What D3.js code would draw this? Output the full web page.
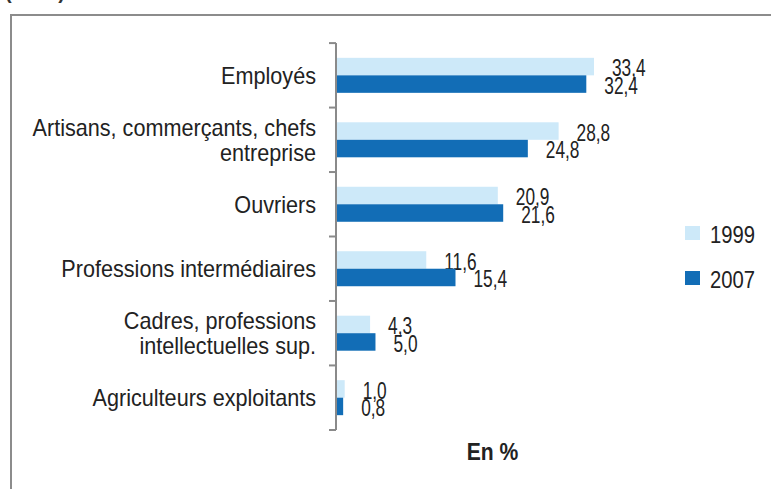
<!DOCTYPE html>
<html><head><meta charset="utf-8">
<script src="https://cdn.jsdelivr.net/npm/d3@7"></script>
<style>body{margin:0;background:#fff;}svg{display:block;}</style>
</head><body>
<svg id="c" width="771" height="489"></svg>
<script>
const categories = [
  ["Employés"],
  ["Artisans, commerçants, chefs", "entreprise"],
  ["Ouvriers"],
  ["Professions intermédiaires"],
  ["Cadres, professions", "intellectuelles sup."],
  ["Agriculteurs exploitants"]
];
const values1999 = [33.4, 28.8, 20.9, 11.6, 4.3, 1.0];
const values2007 = [32.4, 24.8, 21.6, 15.4, 5.0, 0.8];
const seriesNames = ["1999", "2007"];
const colors = ["#cde9f9", "#126db6"];
const fmt = v => v.toFixed(1).replace(".", ",");
const FONT = "Liberation Sans, Arial, sans-serif";

const svg = d3.select("#c");
const keys = categories.map((c, i) => i);
const y = d3.scaleBand().domain(keys).range([43, 430]).paddingInner(0.457).paddingOuter(0.23);
const yIn = d3.scaleBand().domain([0, 1]).range([0, y.bandwidth()]).padding(0);
const x = d3.scaleLinear().domain([0, 33.4]).range([337, 594]);

function stext(g, tx, ty, sx, size, str, opts = {}) {
  return g.append("text")
    .attr("transform", `translate(${tx},${ty}) scale(${sx},1)`)
    .attr("text-anchor", opts.anchor || "start")
    .attr("font-family", FONT)
    .attr("font-weight", opts.bold ? "bold" : "normal")
    .attr("font-size", size).attr("fill", "#222").text(str);
}

// frame
svg.append("rect").attr("x", 11).attr("y", 15).attr("width", 800).attr("height", 520)
  .attr("fill", "none").attr("stroke", "#8c8c8c").attr("stroke-width", 2);

// partial header text (cut by the top edge, as in the reference)
svg.append("text").attr("x", 5).attr("y", -1).attr("font-family", FONT)
  .attr("font-weight", "bold").attr("font-size", 20).attr("fill", "#333").text("(en %)");

// bars and value labels
const series = [values1999, values2007];
series.forEach((vals, s) => {
  svg.append("g").selectAll("rect").data(vals).join("rect")
    .attr("x", x(0))
    .attr("y", (d, i) => y(i) + yIn(s))
    .attr("width", d => x(d) - x(0))
    .attr("height", yIn.bandwidth())
    .attr("fill", colors[s]);
  const lg = svg.append("g");
  vals.forEach((d, i) => {
    stext(lg, x(d) + 18, y(i) + yIn(s) + yIn.bandwidth() + 1, 0.72, 24, fmt(d));
  });
});

// axis
const axisX = 336;
const ag = svg.append("g");
ag.append("line").attr("x1", axisX).attr("x2", axisX).attr("y1", 43).attr("y2", 430)
  .attr("stroke", "#8a8a8a").attr("stroke-width", 2);
const boundaries = keys.map(i => y(i) - y.step() * y.paddingInner() / 2).concat([430]);
ag.selectAll("line.t").data(boundaries).join("line").attr("class", "t")
  .attr("x1", axisX - 7).attr("x2", axisX).attr("y1", d => d).attr("y2", d => d)
  .attr("stroke", "#8a8a8a").attr("stroke-width", 2);

// category labels
const cg = svg.append("g");
categories.forEach((lines, i) => {
  const cy = y(i) + y.bandwidth() / 2;
  const n = lines.length, lh = 25;
  lines.forEach((l, k) => {
    stext(cg, 316, cy + (k - (n - 1) / 2) * lh + 8.5, 0.94, 23, l, { anchor: "end" });
  });
});

// x axis title
stext(svg, 492.5, 460, 0.88, 24, "En %", { anchor: "middle", bold: true });

// legend
seriesNames.forEach((n, s) => {
  const top = 226 + s * 45;
  svg.append("rect").attr("x", 685).attr("y", top).attr("width", 15).attr("height", 14).attr("fill", colors[s]);
  stext(svg, 710, top + 16.5, 0.88, 23, n);
});
</script>
</body></html>
